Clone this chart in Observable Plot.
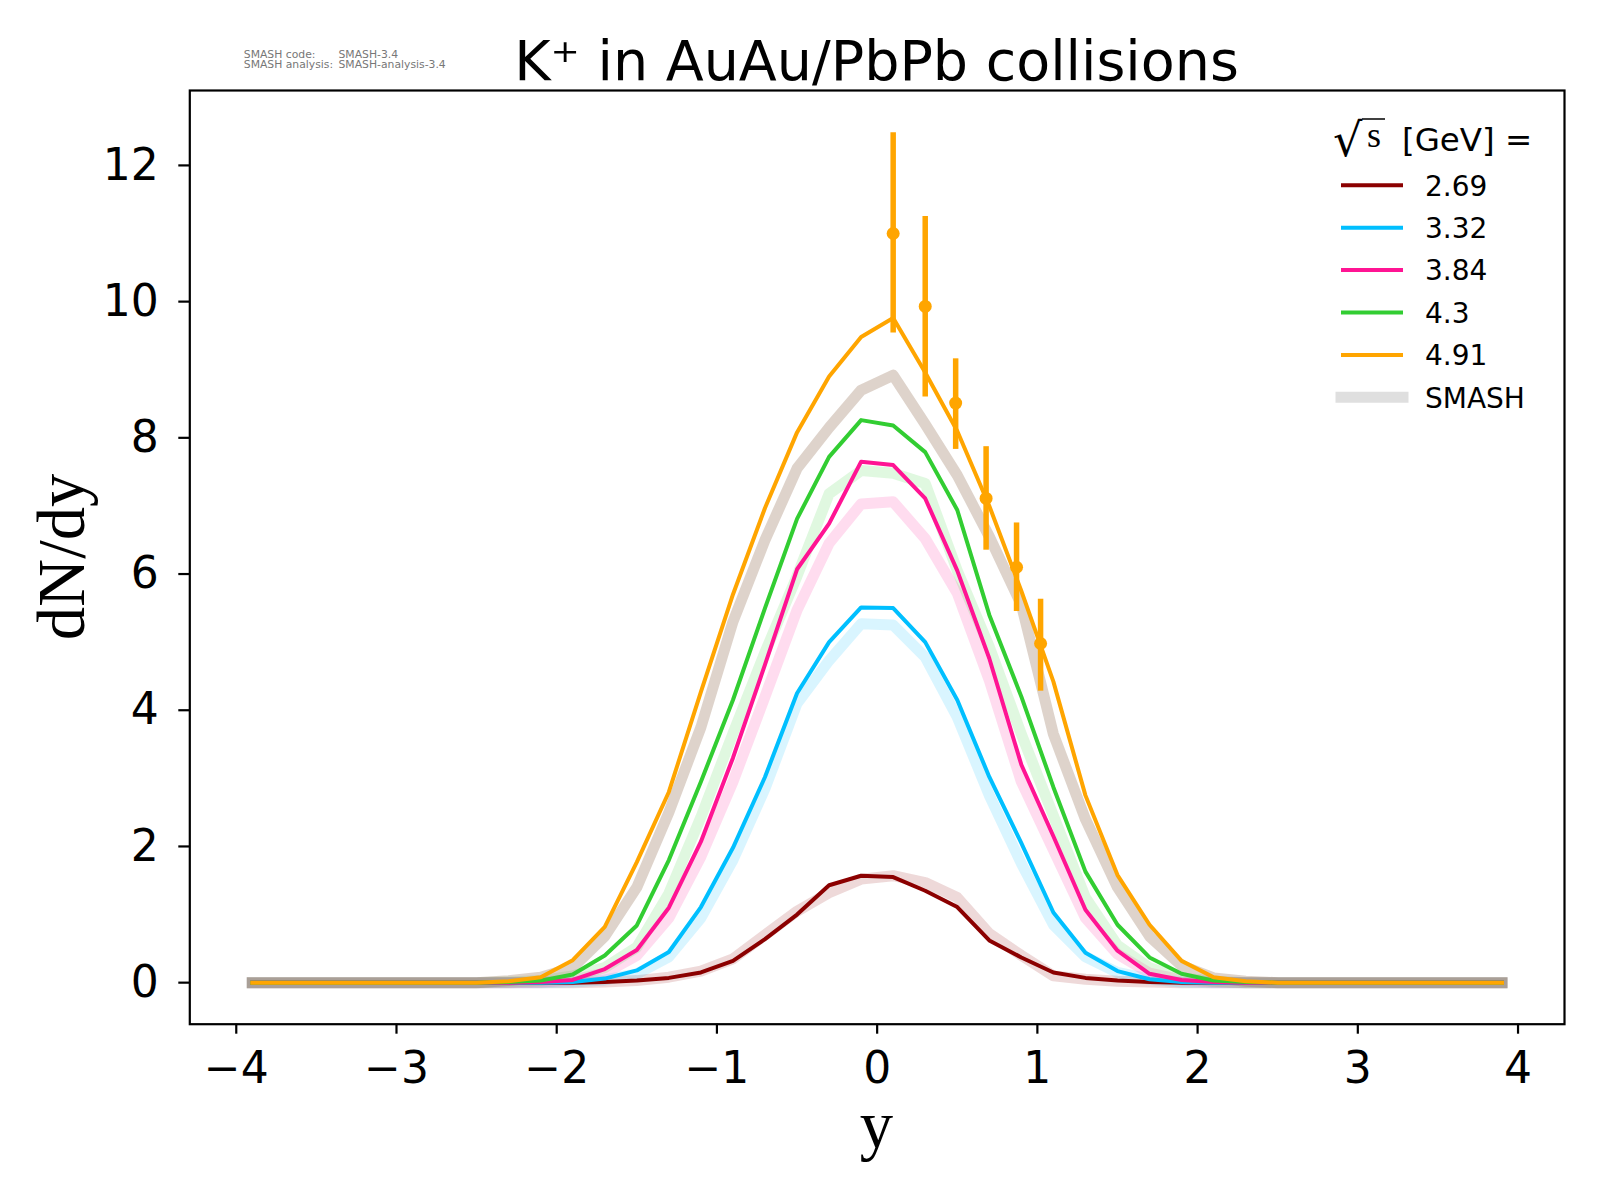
<!DOCTYPE html>
<html>
<head>
<meta charset="utf-8">
<script src="https://cdn.jsdelivr.net/npm/d3@7"></script>
<script src="https://cdn.jsdelivr.net/npm/@observablehq/plot@0.6"></script>
<style>
  html, body { margin: 0; padding: 0; background: #fff; }
  #chart { width: 1600px; height: 1200px; }
</style>
</head>
<body>
<div id="chart"></div>
<script>
// ---------- data ----------
const rapidity = [-3.9,-3.7,-3.5,-3.3,-3.1,-2.9,-2.7,-2.5,-2.3,-2.1,-1.9,-1.7,-1.5,-1.3,-1.1,-0.9,-0.7,-0.5,-0.3,-0.1,
                  0.1,0.3,0.5,0.7,0.9,1.1,1.3,1.5,1.7,1.9,2.1,2.3,2.5,2.7,2.9,3.1,3.3,3.5,3.7,3.9];

const energies = ["2.69", "3.32", "3.84", "4.3", "4.91"];
const lineColors = ["#8b0000", "#00bfff", "#ff1493", "#32cd32", "#ffa500"];
const bandColors = ["#8b0000", "#00bfff", "#ff1493", "#32cd32", "#7a5030"];

// thin lines
const line269 = [0,0,0,0,0,0,0,0, 0,0,0,0.01,0.03,0.07,0.15,0.32,0.64,1.00,1.43,1.57,1.55,1.35,1.11,0.62,0.37,0.15,0.07,0.03,0.01,0,0,0, 0,0,0,0,0,0,0,0];
const line332 = [0,0,0,0,0,0,0,0, 0,0,0.01,0.06,0.18,0.45,1.11,1.98,3.02,4.25,5.00,5.51,5.50,5.00,4.15,3.02,2.05,1.03,0.44,0.17,0.05,0.01,0,0, 0,0,0,0,0,0,0,0];
const line384 = [0,0,0,0,0,0,0,0, 0.00,0.01,0.04,0.20,0.48,1.10,2.07,3.30,4.67,6.07,6.74,7.65,7.60,7.11,6.05,4.76,3.20,2.15,1.07,0.47,0.13,0.04,0.01,0.00, 0,0,0,0,0,0,0,0];
const line43  = [0,0,0,0,0,0,0,0, 0.01,0.03,0.12,0.40,0.84,1.80,2.95,4.15,5.50,6.81,7.72,8.26,8.18,7.79,6.94,5.40,4.20,2.87,1.63,0.85,0.37,0.13,0.03,0.01, 0,0,0,0,0,0,0,0];
const line491 = [0,0,0,0,0,0,0,0, 0.02,0.08,0.33,0.82,1.77,2.80,4.27,5.70,6.97,8.08,8.90,9.48,9.76,8.96,8.10,7.00,5.75,4.42,2.75,1.58,0.85,0.32,0.08,0.02, 0,0,0,0,0,0,0,0];

// SMASH bands
const smash269 = [0,0,0,0,0,0,0,0, 0,0,0,0.01,0.03,0.08,0.17,0.35,0.70,1.05,1.32,1.52,1.57,1.47,1.25,0.72,0.40,0.10,0.05,0.02,0.01,0,0,0, 0,0,0,0,0,0,0,0];
const smash332 = [0,0,0,0,0,0,0,0, 0,0,0.01,0.04,0.13,0.38,0.95,1.80,2.85,4.10,4.73,5.27,5.25,4.78,3.90,2.75,1.75,0.85,0.38,0.15,0.05,0.01,0,0, 0,0,0,0,0,0,0,0];
const smash384 = [0,0,0,0,0,0,0,0, 0.00,0.01,0.04,0.14,0.40,0.95,1.85,2.95,4.20,5.47,6.45,7.03,7.06,6.52,5.72,4.44,2.95,1.95,0.95,0.42,0.14,0.04,0.01,0.00, 0,0,0,0,0,0,0,0];
const smash43  = [0,0,0,0,0,0,0,0, 0.01,0.03,0.10,0.22,0.52,1.31,2.43,3.66,4.85,5.97,7.18,7.52,7.48,7.33,6.05,4.93,3.65,2.45,1.25,0.55,0.22,0.07,0.02,0.00, 0,0,0,0,0,0,0,0];
const smash491 = [0,0,0,0,0,0,0,0, 0.03,0.08,0.22,0.68,1.40,2.50,3.75,5.30,6.50,7.55,8.15,8.70,8.92,8.20,7.45,6.55,5.55,3.65,2.40,1.40,0.68,0.25,0.07,0.02, 0,0,0,0,0,0,0,0];

// experimental points (4.91 GeV)
const expY     = [0.10, 0.30, 0.49, 0.68, 0.87, 1.02];
const expDNdy  = [11.00, 9.93, 8.51, 7.11, 6.10, 4.98];
const expLow   = [9.54, 8.60, 7.83, 6.35, 5.45, 4.28];
const expHigh  = [12.48, 11.25, 9.16, 7.87, 6.75, 5.63];

const xTicks = [-4, -3, -2, -1, 0, 1, 2, 3, 4];
const yTicks = [0, 2, 4, 6, 8, 10, 12];

// ---------- build tables ----------
const lineSeries = [line269, line332, line384, line43, line491];
const smashSeries = [smash269, smash332, smash384, smash43, smash491];
const toRows = (vals) => rapidity.map((x, i) => ({x, y: vals[i]}));
const expRows = expY.map((x, i) => ({x, y: expDNdy[i], lo: expLow[i], hi: expHigh[i]}));

const LW = 4.0;
const bandMarks = smashSeries.map((vals, i) =>
  Plot.line(toRows(vals), {x: "x", y: "y", stroke: bandColors[i],
    strokeOpacity: i === 4 ? 0.25 : 0.15, strokeWidth: 11,
    strokeLinecap: "square", strokeLinejoin: "round"}));
const lineMarks = lineSeries.map((vals, i) =>
  Plot.line(toRows(vals), {x: "x", y: "y", stroke: lineColors[i], strokeWidth: LW,
    strokeLinecap: "square", strokeLinejoin: "round"}));

const svg = Plot.plot({
  width: 1600,
  height: 1200,
  marginLeft: 189.3,
  marginRight: 36,
  marginTop: 90,
  marginBottom: 176.3,
  style: {fontFamily: "DejaVu Sans", fontSize: "44px", color: "black", background: "white", overflow: "visible"},
  x: {domain: [-4.29, 4.29]},
  y: {domain: [-0.61, 13.1]},
  marks: [
    ...bandMarks,
    ...lineMarks,
    Plot.ruleX(expRows, {x: "x", y1: "lo", y2: "hi", stroke: "#ffa500", strokeWidth: 5.5}),
    Plot.dot(expRows, {x: "x", y: "y", r: 6.5, fill: "#ffa500", stroke: "none"}),
    Plot.frame({stroke: "black", strokeWidth: 2.2}),
    Plot.axisX({ticks: xTicks, tickSize: 10, tickPadding: 18, strokeWidth: 2.2, label: null, fontSize: 44}),
    Plot.axisY({ticks: yTicks, tickSize: 11, tickPadding: 20, strokeWidth: 2.2, label: null, fontSize: 44})
  ]
});

document.getElementById("chart").appendChild(svg);

// ---------- titles, labels, legend ----------
const s = d3.select(svg);

s.append("text").attr("x", 876.5).attr("y", 80).attr("text-anchor", "middle")
  .attr("font-family", "DejaVu Sans").attr("font-size", 55.5).attr("fill", "black")
  .text("K⁺ in AuAu/PbPb collisions");

const ver = s.append("g").attr("font-family", "DejaVu Sans").attr("font-size", 10.8)
  .attr("fill", "#777").attr("text-anchor", "start");
ver.append("text").attr("x", 243.8).attr("y", 57.5).text("SMASH code:");
ver.append("text").attr("x", 338.5).attr("y", 57.5).text("SMASH-3.4");
ver.append("text").attr("x", 243.8).attr("y", 68).text("SMASH analysis:");
ver.append("text").attr("x", 338.5).attr("y", 68).text("SMASH-analysis-3.4");

s.append("text").attr("transform", "translate(83.8,556.9) rotate(-90)").attr("text-anchor", "middle")
  .attr("font-family", "Liberation Serif").attr("font-size", 66.7).attr("fill", "black").text("dN/dy");
s.append("text").attr("x", 876.5).attr("y", 1148).attr("text-anchor", "middle")
  .attr("font-family", "Liberation Serif").attr("font-size", 66.7).attr("fill", "black").text("y");

// legend
const lg = s.append("g").attr("text-anchor", "start");
lg.append("text").attr("x", 1333).attr("y", 156).attr("font-family", "DejaVu Serif").attr("font-size", 46)
  .attr("fill", "black").text("√");
lg.append("line").attr("x1", 1362).attr("x2", 1385).attr("y1", 119).attr("y2", 119)
  .attr("stroke", "black").attr("stroke-width", 1.5);
lg.append("text").attr("x", 1367).attr("y", 147).attr("font-family", "Liberation Serif").attr("font-size", 36)
  .attr("fill", "black").text("s");
lg.append("text").attr("x", 1402).attr("y", 151).attr("font-family", "DejaVu Sans").attr("font-size", 32.5)
  .attr("fill", "black").text("[GeV] =");

const legendLabels = [...energies, "SMASH"];
legendLabels.forEach((lab, i) => {
  const y = 185.3 + i * 42.4;
  const isSmash = i === energies.length;
  lg.append("line").attr("x1", 1341).attr("x2", 1403).attr("y1", y).attr("y2", y)
    .attr("stroke", isSmash ? "#dfdfdf" : lineColors[i])
    .attr("stroke-width", isSmash ? 11 : LW)
    .attr("stroke-linecap", isSmash ? "square" : "butt");
  lg.append("text").attr("x", 1425).attr("y", y + 10.2).attr("font-family", "DejaVu Sans").attr("font-size", 28)
    .attr("fill", "black").text(lab);
});
</script>
</body>
</html>
